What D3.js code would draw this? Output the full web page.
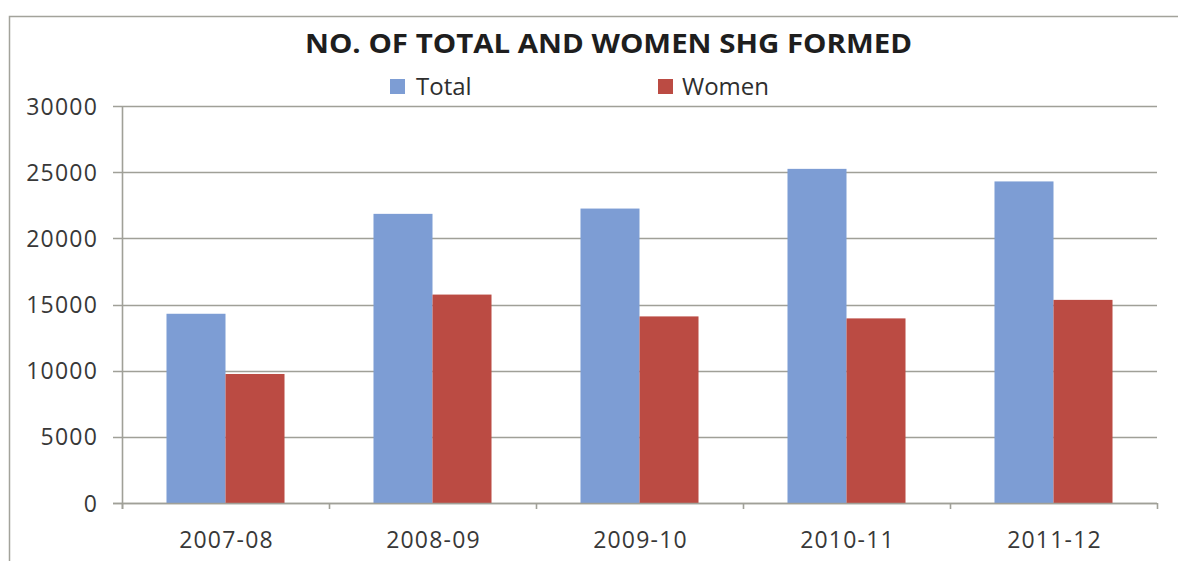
<!DOCTYPE html>
<html>
<head>
<meta charset="utf-8">
<script src="https://cdn.jsdelivr.net/npm/d3@7"></script>
<style>
  html, body { margin: 0; padding: 0; background: #ffffff; }
  svg { display: block; }
</style>
</head>
<body>
<svg id="chart" width="1178" height="561"></svg>
<script>
// Self-help groups formed per year
const categories = ["2007-08", "2008-09", "2009-10", "2010-11", "2011-12"];
const seriesNames = ["Total", "Women"];
const totalValues = [14300, 21850, 22250, 25250, 24300];
const womenValues = [9750, 15750, 14100, 13950, 15350];
const yTicks = [0, 5000, 10000, 15000, 20000, 25000, 30000];
const titleText = "NO. OF TOTAL AND WOMEN SHG FORMED";

const colors = { Total: "#7d9dd4", Women: "#bb4b43" };
const valuesBySeries = { Total: totalValues, Women: womenValues };

const svg = d3.select("#chart");
const font = "'Open Sans', 'Liberation Sans', sans-serif";

// outer chart frame
svg.append("rect")
  .attr("x", 9.5).attr("y", 16.5)
  .attr("width", 1190).attr("height", 560)
  .attr("fill", "#ffffff")
  .attr("stroke", "#a3a39b").attr("stroke-width", 1.5);

const plot = { left: 122, right: 1157, top: 106, bottom: 503 };

const y = d3.scaleLinear().domain([0, 30000]).range([plot.bottom, plot.top]);
const x0 = d3.scaleBand().domain(categories).range([plot.left, plot.right]).padding(0);
const x1 = d3.scaleBand().domain(seriesNames).range([0, x0.bandwidth()])
  .paddingInner(0).paddingOuter(0.754);

// horizontal gridlines with left tick marks
svg.append("g")
  .selectAll("line")
  .data(yTicks)
  .join("line")
  .attr("x1", plot.left - 9).attr("x2", plot.right)
  .attr("y1", d => Math.round(y(d)) + 0.5).attr("y2", d => Math.round(y(d)) + 0.5)
  .attr("stroke", "#a0a098").attr("stroke-width", 1.6);

// bars
const groups = svg.append("g")
  .selectAll("g")
  .data(categories)
  .join("g")
  .attr("transform", d => `translate(${x0(d)},0)`);

groups.selectAll("rect")
  .data((c, i) => seriesNames.map(s => ({ s, v: valuesBySeries[s][i] })))
  .join("rect")
  .attr("x", d => x1(d.s))
  .attr("width", x1.bandwidth())
  .attr("y", d => y(d.v))
  .attr("height", d => y(0) - y(d.v))
  .attr("fill", d => colors[d.s]);

// y axis line
svg.append("line")
  .attr("x1", plot.left + 0.5).attr("x2", plot.left + 0.5)
  .attr("y1", plot.top).attr("y2", plot.bottom + 6)
  .attr("stroke", "#a0a098").attr("stroke-width", 1.6);

// x axis line and category separators
svg.append("line")
  .attr("x1", plot.left - 9).attr("x2", plot.right)
  .attr("y1", plot.bottom + 0.5).attr("y2", plot.bottom + 0.5)
  .attr("stroke", "#a0a098").attr("stroke-width", 1.6);

const boundaries = categories.map(c => x0(c)).concat([x0.range()[1]]);
svg.append("g")
  .selectAll("line")
  .data(boundaries)
  .join("line")
  .attr("x1", d => d + 0.5).attr("x2", d => d + 0.5)
  .attr("y1", plot.bottom).attr("y2", plot.bottom + 6)
  .attr("stroke", "#a0a098").attr("stroke-width", 1.6);

// y tick labels
svg.append("g")
  .selectAll("text")
  .data(yTicks)
  .join("text")
  .attr("x", 98)
  .attr("y", d => y(d))
  .attr("dy", "0.37em")
  .attr("text-anchor", "end")
  .attr("font-family", font)
  .attr("font-size", 23)
  .attr("letter-spacing", 1.2)
  .attr("fill", "#383838")
  .text(d => d);

// category labels
svg.append("g")
  .selectAll("text")
  .data(categories)
  .join("text")
  .attr("x", d => x0(d) + x0.bandwidth() / 2 + 1)
  .attr("y", 548)
  .attr("text-anchor", "middle")
  .attr("font-family", font)
  .attr("font-size", 23)
  .attr("letter-spacing", 1.2)
  .attr("fill", "#383838")
  .text(d => d);

// title
svg.append("text")
  .attr("x", 305).attr("y", 53)
  .attr("textLength", 607)
  .attr("lengthAdjust", "spacingAndGlyphs")
  .attr("font-family", font)
  .attr("font-weight", "bold")
  .attr("font-size", 26)
  .attr("fill", "#1e1e1e")
  .text(titleText);

// legend
const legendPos = { Total: 390, Women: 658 };
const legend = svg.append("g")
  .selectAll("g")
  .data(seriesNames)
  .join("g")
  .attr("transform", d => `translate(${legendPos[d]},0)`);

legend.append("rect")
  .attr("x", 0).attr("y", 79)
  .attr("width", 15).attr("height", 15)
  .attr("fill", d => colors[d]);

legend.append("text")
  .attr("x", d => d === "Total" ? 26 : 24)
  .attr("y", 95)
  .attr("font-family", font)
  .attr("font-size", 24)
  .attr("fill", "#2e2e2e")
  .text(d => d);
</script>
</body>
</html>
